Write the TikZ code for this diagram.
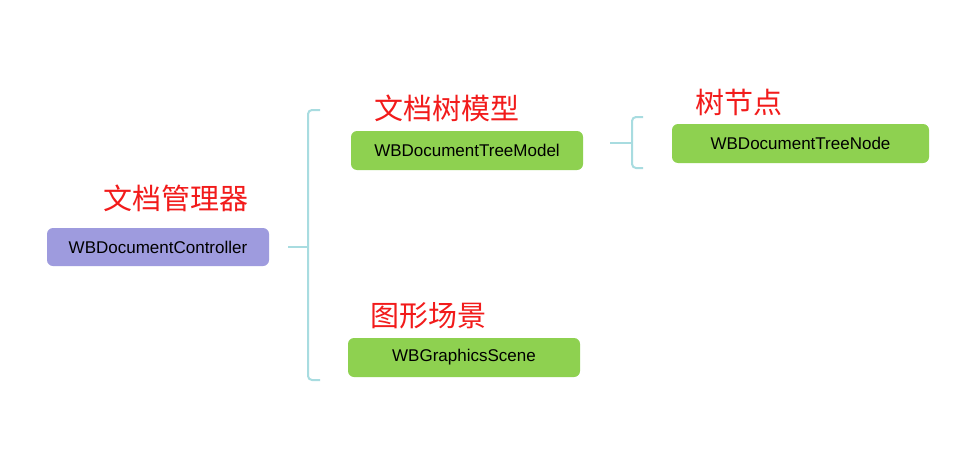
\documentclass[tikz,border=0pt]{standalone}
\usepackage{fontspec}
\setmainfont{Liberation Sans}
\newfontfamily\cjk{Noto Sans CJK SC}
\definecolor{lav}{HTML}{9E9BDE}
\definecolor{grn}{HTML}{8ED150}
\definecolor{brc}{HTML}{A8DCE0}
\definecolor{lbl}{HTML}{F21B1B}
\begin{document}
\begin{tikzpicture}[x=1pt,y=-1pt,
  box/.style={rectangle,rounded corners=6pt,inner sep=0pt,font=\fontsize{17}{20}\selectfont,text=black},
  lavbox/.style={box,fill=lav},
  grnbox/.style={box,fill=grn},
  tag/.style={font=\cjk\fontsize{29}{32}\selectfont,text=lbl,inner sep=0pt},
  brace/.style={draw=brc,line width=2pt,rounded corners=4pt},
  stem/.style={draw=brc,line width=2pt}]
\fill[white] (0,0) rectangle (974,460);
\useasboundingbox (0,0) rectangle (974,460);

\node[lavbox,minimum width=222pt,minimum height=38pt] (ctrl) at (158,247) {WBDocumentController};
\node[grnbox,minimum width=232pt,minimum height=39pt] (model) at (467,150.5) {WBDocumentTreeModel};
\node[grnbox,minimum width=257pt,minimum height=39pt] (tnode) at (800.5,143.5) {WBDocumentTreeNode};
\node[grnbox,minimum width=232pt,minimum height=39pt] (scene) at (464,357.5) {WBGraphicsScene};

\node[tag] (tctrl) at (176,198) {文档管理器};
\node[tag] (tmodel) at (447,108) {文档树模型};
\node[tag] (tnodel) at (739,102) {树节点};
\node[tag] (tscene) at (428,316) {图形场景};

% first bracket
\coordinate (b1top) at (320,110);
\coordinate (b1bot) at (320,380);
\coordinate (b1mid) at (308,247);
\draw[brace] (b1top) -- (308,110) -- (308,380) -- (b1bot);
\draw[stem] ([xshift=19pt]ctrl.east) -- (b1mid);

% second bracket
\coordinate (b2top) at (643,117);
\coordinate (b2bot) at (643,168);
\coordinate (b2mid) at (632,143);
\coordinate (b2start) at (610,143);
\draw[brace] (b2top) -- (632,117) -- (632,168) -- (b2bot);
\draw[stem] (b2start) -- (b2mid);
\end{tikzpicture}
\end{document}
